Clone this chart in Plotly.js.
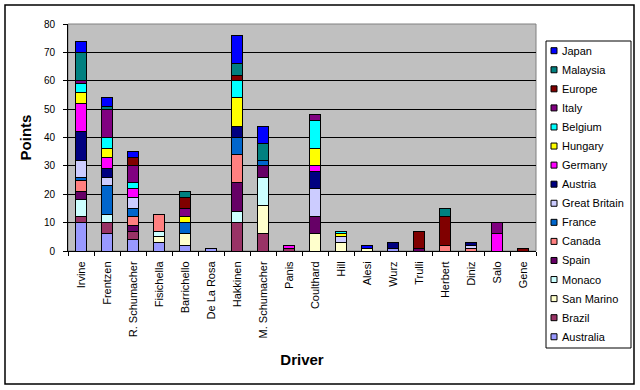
<!DOCTYPE html>
<html>
<head>
<meta charset="utf-8">
<script src="https://cdn.plot.ly/plotly-3.0.1.min.js"></script>
<style>
html,body{margin:0;padding:0;background:#fff;}
#chart{width:640px;height:390px;}
</style>
</head>
<body>
<div id="chart"></div>
<script>
// ---- data ----
const drivers = ["Irvine","Frentzen","R. Schumacher","Fisichella","Barrichello","De La Rosa","Hakkinen","M. Schumacher","Panis","Coulthard","Hill","Alesi","Wurz","Trulli","Herbert","Diniz","Salo","Gene"];
const races = ["Australia","Brazil","San Marino","Monaco","Spain","Canada","France","Great Britain","Austria","Germany","Hungary","Belgium","Italy","Europe","Malaysia","Japan"];
//                    Irv Fre RSc Fis Bar DLR Hak MSc Pan Cou Hil Ale Wur Tru Her Din Sal Gen
const australia   = [10,  6,  4,  3,  2,  1,  0,  0,  0,  0,  0,  0,  1,  0,  0,  0,  0,  0];
const brazil      = [ 2,  4,  3,  0,  0,  0, 10,  6,  1,  0,  0,  0,  0,  0,  0,  0,  0,  0];
const sanMarino   = [ 0,  0,  0,  2,  4,  0,  0, 10,  0,  6,  3,  1,  0,  0,  0,  0,  0,  0];
const monaco      = [ 6,  3,  0,  2,  0,  0,  4, 10,  0,  0,  0,  0,  0,  0,  0,  0,  0,  0];
const spain       = [ 3,  0,  2,  0,  0,  0, 10,  4,  0,  6,  0,  0,  0,  1,  0,  0,  0,  0];
const canada      = [ 4,  0,  3,  6,  0,  0, 10,  0,  0,  0,  0,  0,  0,  0,  2,  1,  0,  0];
const france      = [ 1, 10,  3,  0,  4,  0,  6,  2,  0,  0,  0,  0,  0,  0,  0,  0,  0,  0];
const greatBritain= [ 6,  3,  4,  0,  0,  0,  0,  0,  0, 10,  2,  0,  0,  0,  0,  1,  0,  0];
const austria     = [10,  3,  0,  0,  0,  0,  4,  0,  0,  6,  0,  0,  2,  0,  0,  1,  0,  0];
const germany     = [10,  4,  3,  0,  0,  0,  0,  0,  1,  2,  0,  0,  0,  0,  0,  0,  6,  0];
const hungary     = [ 4,  3,  0,  0,  2,  0, 10,  0,  0,  6,  1,  0,  0,  0,  0,  0,  0,  0];
const belgium     = [ 3,  4,  2,  0,  0,  0,  6,  0,  0, 10,  1,  0,  0,  0,  0,  0,  0,  0];
const italy       = [ 1, 10,  6,  0,  3,  0,  0,  0,  0,  2,  0,  0,  0,  0,  0,  0,  4,  0];
const europe      = [ 0,  0,  3,  0,  4,  0,  2,  0,  0,  0,  0,  0,  0,  6, 10,  0,  0,  1];
const malaysia    = [10,  1,  0,  0,  2,  0,  4,  6,  0,  0,  0,  0,  0,  0,  3,  0,  0,  0];
const japan       = [ 4,  3,  2,  0,  0,  0, 10,  6,  0,  0,  0,  1,  0,  0,  0,  0,  0,  0];
const seriesValues = [australia,brazil,sanMarino,monaco,spain,canada,france,greatBritain,austria,germany,hungary,belgium,italy,europe,malaysia,japan];
const yTicks = [0,10,20,30,40,50,60,70,80];

// ---- styles ----
const colors = ["#9999FF","#993366","#FFFFCC","#CCFFFF","#660066","#FF8080","#0066CC","#CCCCFF","#000080","#FF00FF","#FFFF00","#00FFFF","#800080","#800000","#008080","#0000FF"];
const FONT = "Liberation Sans, Arial, sans-serif";
const W = 640, H = 390, L = 68, R = 104, T = 24, B = 139;
const pw = W - L - R, ph = H - T - B;
const px = x => (x - L) / pw;
const py = y => (H - B - y) / ph;

const traces = races.map((r, i) => ({
  type: "bar",
  name: r,
  x: drivers,
  y: seriesValues[i],
  marker: {color: colors[i], line: {color: "#000", width: 1}},
  showlegend: false,
  hoverinfo: "x+y+name"
}));

const shapes = [];
const annotations = [];
// outer chart border
shapes.push({type:"rect", xref:"paper", yref:"paper", x0:px(5), x1:px(634), y0:py(5), y1:py(384), line:{color:"#000", width:1.5}, fillcolor:"rgba(0,0,0,0)", layer:"below"});
// plot area border
shapes.push({type:"rect", xref:"paper", yref:"paper", x0:0, x1:1, y0:0, y1:1, line:{color:"#808080", width:1}, fillcolor:"rgba(0,0,0,0)", layer:"below"});
// legend box
shapes.push({type:"rect", xref:"paper", yref:"paper", x0:px(546), x1:px(631), y0:py(41), y1:py(348), line:{color:"#000", width:1}, fillcolor:"#fff"});
races.slice().reverse().forEach((r, k) => {
  const idx = races.length - 1 - k;
  const cy = 50.7 + 19.07 * k;
  shapes.push({type:"rect", xref:"paper", yref:"paper", x0:px(551), x1:px(557), y0:py(cy - 3), y1:py(cy + 3), line:{color:"#000", width:1}, fillcolor:colors[idx]});
  annotations.push({xref:"paper", yref:"paper", x:px(560), y:py(cy), xanchor:"left", yanchor:"middle", text:r, showarrow:false, font:{family:FONT, size:11, color:"#000"}});
});

const layout = {
  width: W, height: H,
  margin: {l:L, r:R, t:T, b:B, pad:0},
  paper_bgcolor: "#fff",
  plot_bgcolor: "#C0C0C0",
  barmode: "stack",
  bargap: 0.58,
  showlegend: false,
  font: {family: FONT, size: 10, color: "#000"},
  xaxis: {
    type: "category",
    tickangle: -90,
    ticks: "outside", ticklen: 4, tickcolor: "#000", tickwidth: 1,
    tickson: "boundaries",
    ticklabelstandoff: 5,
    showline: true, linecolor: "#000", linewidth: 1,
    showgrid: false, zeroline: false,
    tickfont: {family: FONT, size: 11, color: "#000"},
    title: {text: "Driver", font: {family: FONT, size: 15, color: "#000", weight: "bold"}, standoff: 17},
    automargin: false
  },
  yaxis: {
    range: [0, 80],
    tickvals: yTicks,
    ticks: "outside", ticklen: 4, tickcolor: "#000", tickwidth: 1,
    ticklabelstandoff: 6,
    showline: true, linecolor: "#000", linewidth: 1,
    showgrid: true, gridcolor: "#000", gridwidth: 1,
    zeroline: false,
    tickfont: {family: FONT, size: 10, color: "#000"},
    title: {text: "Points", font: {family: FONT, size: 15, color: "#000", weight: "bold"}, standoff: 8},
    automargin: false
  },
  shapes: shapes,
  annotations: annotations
};

Plotly.newPlot("chart", traces, layout, {displayModeBar: false, staticPlot: true});
</script>
</body>
</html>
